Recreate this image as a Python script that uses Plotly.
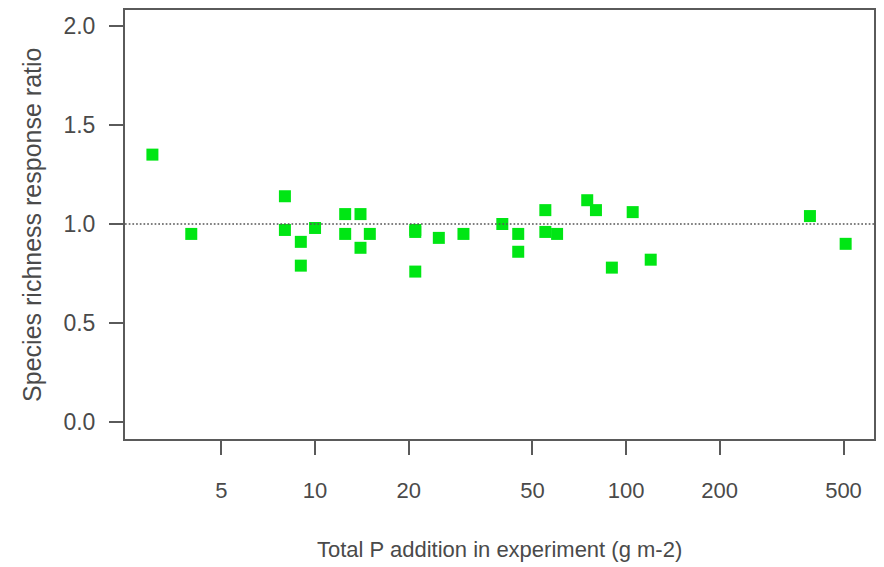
import plotly.graph_objects as go

# Data
p_added = [3, 4, 8, 8, 9, 9, 10, 12.5, 12.5, 14, 14, 15, 21, 21, 21, 25, 30, 40,
           45, 45, 55, 55, 60, 75, 80, 90, 105, 120, 390, 508]
richness_ratio = [1.35, 0.95, 1.14, 0.97, 0.91, 0.79, 0.98, 1.05, 0.95, 1.05, 0.88, 0.95,
                  0.97, 0.96, 0.76, 0.93, 0.95, 1.00, 0.95, 0.86, 1.07, 0.96, 0.95,
                  1.12, 1.07, 0.78, 1.06, 0.82, 1.04, 0.90]

x_tick_vals = [5, 10, 20, 50, 100, 200, 500]
x_tick_text = ["5", "10", "20", "50", "100", "200", "500"]
y_tick_vals = [0.0, 0.5, 1.0, 1.5, 2.0]
y_tick_text = ["0.0", "0.5", "1.0", "1.5", "2.0"]
reference_line = 1.0

x_title = "Total P addition in experiment (g m-2)"
y_title = "Species richness response ratio"

FONT = "Liberation Sans, Arial, sans-serif"
TXT = "#4a4a4a"
AX = "#5a5a5a"

fig = go.Figure()
fig.add_trace(go.Scatter(
    x=p_added, y=richness_ratio, mode="markers",
    marker=dict(symbol="square", size=12, color="#00E614", line=dict(width=0)),
    showlegend=False,
))

fig.add_shape(type="line", xref="paper", yref="y", x0=0, x1=1,
              y0=reference_line, y1=reference_line,
              line=dict(color="#555555", width=1.7, dash="1.7px,2px"))

fig.update_xaxes(
    type="log", range=[0.389, 2.797],
    tickvals=x_tick_vals, ticktext=x_tick_text,
    ticks="outside", ticklen=14, tickwidth=2, tickcolor=AX,
    showline=True, linecolor=AX, linewidth=2, mirror=True,
    showgrid=False, zeroline=False,
    tickfont=dict(family=FONT, size=22, color=TXT),
    ticklabelstandoff=17,
)
fig.update_yaxes(
    range=[-0.0845, 2.0795],
    tickvals=y_tick_vals, ticktext=y_tick_text,
    ticks="outside", ticklen=14, tickwidth=2, tickcolor=AX,
    showline=True, linecolor=AX, linewidth=2, mirror=True,
    showgrid=False, zeroline=False,
    tickfont=dict(family=FONT, size=23, color=TXT),
    ticklabelstandoff=9,
)

fig.add_annotation(text=x_title, xref="paper", yref="paper", x=0.5, y=-0.258,
                   xanchor="center", yanchor="middle", showarrow=False,
                   font=dict(family=FONT, size=22, color=TXT))
fig.add_annotation(text=y_title, xref="paper", yref="paper", x=-0.125, y=0.5,
                   xanchor="center", yanchor="middle", showarrow=False, textangle=-90,
                   font=dict(family=FONT, size=25, color=TXT))

fig.update_layout(
    width=884, height=567,
    margin=dict(l=125, r=8, t=9, b=128),
    plot_bgcolor="white", paper_bgcolor="white",
)

fig.write_html("out.html")
